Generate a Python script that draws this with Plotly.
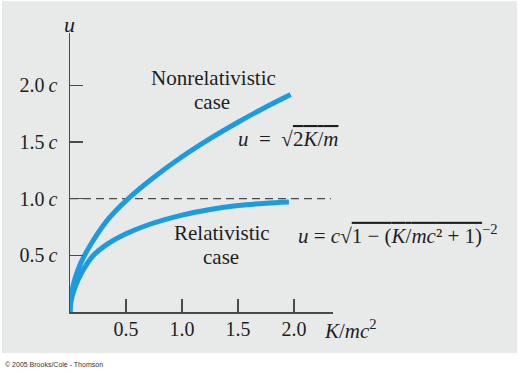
import plotly.graph_objects as go

# ---- data ----
K_nonrel = [0, 0.005, 0.02, 0.05, 0.10, 0.20, 0.35, 0.53, 0.75, 1.00, 1.25, 1.50, 1.75, 1.97]
u_nonrel = [0, 0.10, 0.20, 0.31, 0.44, 0.62, 0.83, 1.01, 1.19, 1.37, 1.53, 1.675, 1.81, 1.92]

K_rel = [0, 0.005, 0.02, 0.05, 0.10, 0.20, 0.32, 0.50, 0.70, 1.00, 1.25, 1.50, 1.75, 1.955]
u_rel = [0, 0.07, 0.14, 0.23, 0.34, 0.49, 0.59, 0.69, 0.77, 0.855, 0.905, 0.94, 0.96, 0.97]

limit_K = [0, 2.33]
limit_u = [1.0, 1.0]

x_ticks = [0.5, 1.0, 1.5, 2.0]
x_tick_labels = ["0.5", "1.0", "1.5", "2.0"]
y_ticks = [0.5, 1.0, 1.5, 2.0]
y_tick_labels = ["0.5\u2009<i>c</i>", "1.0\u2009<i>c</i>", "1.5\u2009<i>c</i>", "2.0\u2009<i>c</i>"]

BLUE = "#1c9be1"
AXIS = "#4a4a4a"
TEXT = "#1e1e1e"
SERIF = "Liberation Serif, Times New Roman, serif"

fig = go.Figure()

fig.add_trace(go.Scatter(x=limit_K, y=limit_u, mode="lines",
                         line=dict(color=AXIS, width=1.2, dash="8px,5px"),
                         hoverinfo="skip", showlegend=False))
fig.add_trace(go.Scatter(x=K_nonrel, y=u_nonrel, mode="lines",
                         line=dict(color=BLUE, width=5, shape="spline", smoothing=0.8),
                         showlegend=False))
fig.add_trace(go.Scatter(x=K_rel, y=u_rel, mode="lines",
                         line=dict(color=BLUE, width=5, shape="spline", smoothing=0.8),
                         showlegend=False))

W, H = 519, 371
L, T = 70, 33
Rr, Bb = 333, 312
R, B = W - Rr, H - Bb
pw, ph = Rr - L, Bb - T

def px(xr):
    return (xr - L) / pw

def py(yr):
    return (Bb - yr) / ph

fig.add_shape(type="rect", xref="paper", yref="paper",
              x0=px(2), x1=px(517), y0=py(353), y1=py(1),
              fillcolor="#e8eaea", line=dict(width=0), layer="below")

ann = []
def add_text(x, y, text, size=21, xanchor="center", yanchor="middle", family=SERIF, color=TEXT):
    ann.append(dict(x=px(x), y=py(y), xref="paper", yref="paper", text=text,
                    showarrow=False, xanchor=xanchor, yanchor=yanchor,
                    font=dict(family=family, size=size, color=color)))

OVL = "<span style='text-decoration:overline'>"
add_text(69, 24, "<i>u</i>", size=22)
add_text(322, 329, "<i>K</i>/<i>mc</i><sup>2</sup>", size=21, xanchor="left")
add_text(213, 78, "Nonrelativistic", size=21)
add_text(212, 102, "case", size=21)
add_text(222, 233, "Relativistic", size=21)
add_text(221, 257, "case", size=21)
add_text(236, 139, "<i>u</i>  =  √" + OVL + "2<i>K</i>/<i>m</i></span>",
         size=21, xanchor="left")
add_text(296, 234,
         "<i>u</i> = <i>c</i>√" + OVL + "1 − (<i>K</i>/<i>mc</i>² + 1)</span><sup>−2</sup>",
         size=21, xanchor="left")
add_text(3, 364, "© 2005 Brooks/Cole - Thomson", size=7, xanchor="left",
         family="Liberation Sans, Arial, sans-serif", color="#333333")

fig.update_layout(
    width=W, height=H,
    margin=dict(l=L, r=R, t=T, b=B, pad=0),
    paper_bgcolor="white",
    plot_bgcolor="rgba(0,0,0,0)",
    annotations=ann,
    hovermode=False,
    xaxis=dict(range=[0, 263 / 112], showgrid=False, zeroline=False,
               showline=True, linecolor=AXIS, linewidth=1.5,
               ticks="inside", ticklen=13, tickwidth=1.5, tickcolor=AXIS,
               tickvals=x_ticks, ticktext=x_tick_labels, ticklabelstandoff=-2,
               tickfont=dict(family=SERIF, size=20, color=TEXT), fixedrange=True),
    yaxis=dict(range=[0, 279 / 113.3], showgrid=False, zeroline=False,
               showline=True, linecolor=AXIS, linewidth=1.5,
               ticks="inside", ticklen=13, tickwidth=1.5, tickcolor=AXIS,
               tickvals=y_ticks, ticktext=y_tick_labels, ticklabelstandoff=7,
               tickfont=dict(family=SERIF, size=20, color=TEXT), fixedrange=True),
)

fig.write_html("out.html",
               config={"displayModeBar": False, "staticPlot": True},
               post_script="document.body.style.margin='0';document.body.style.overflow='hidden';")
